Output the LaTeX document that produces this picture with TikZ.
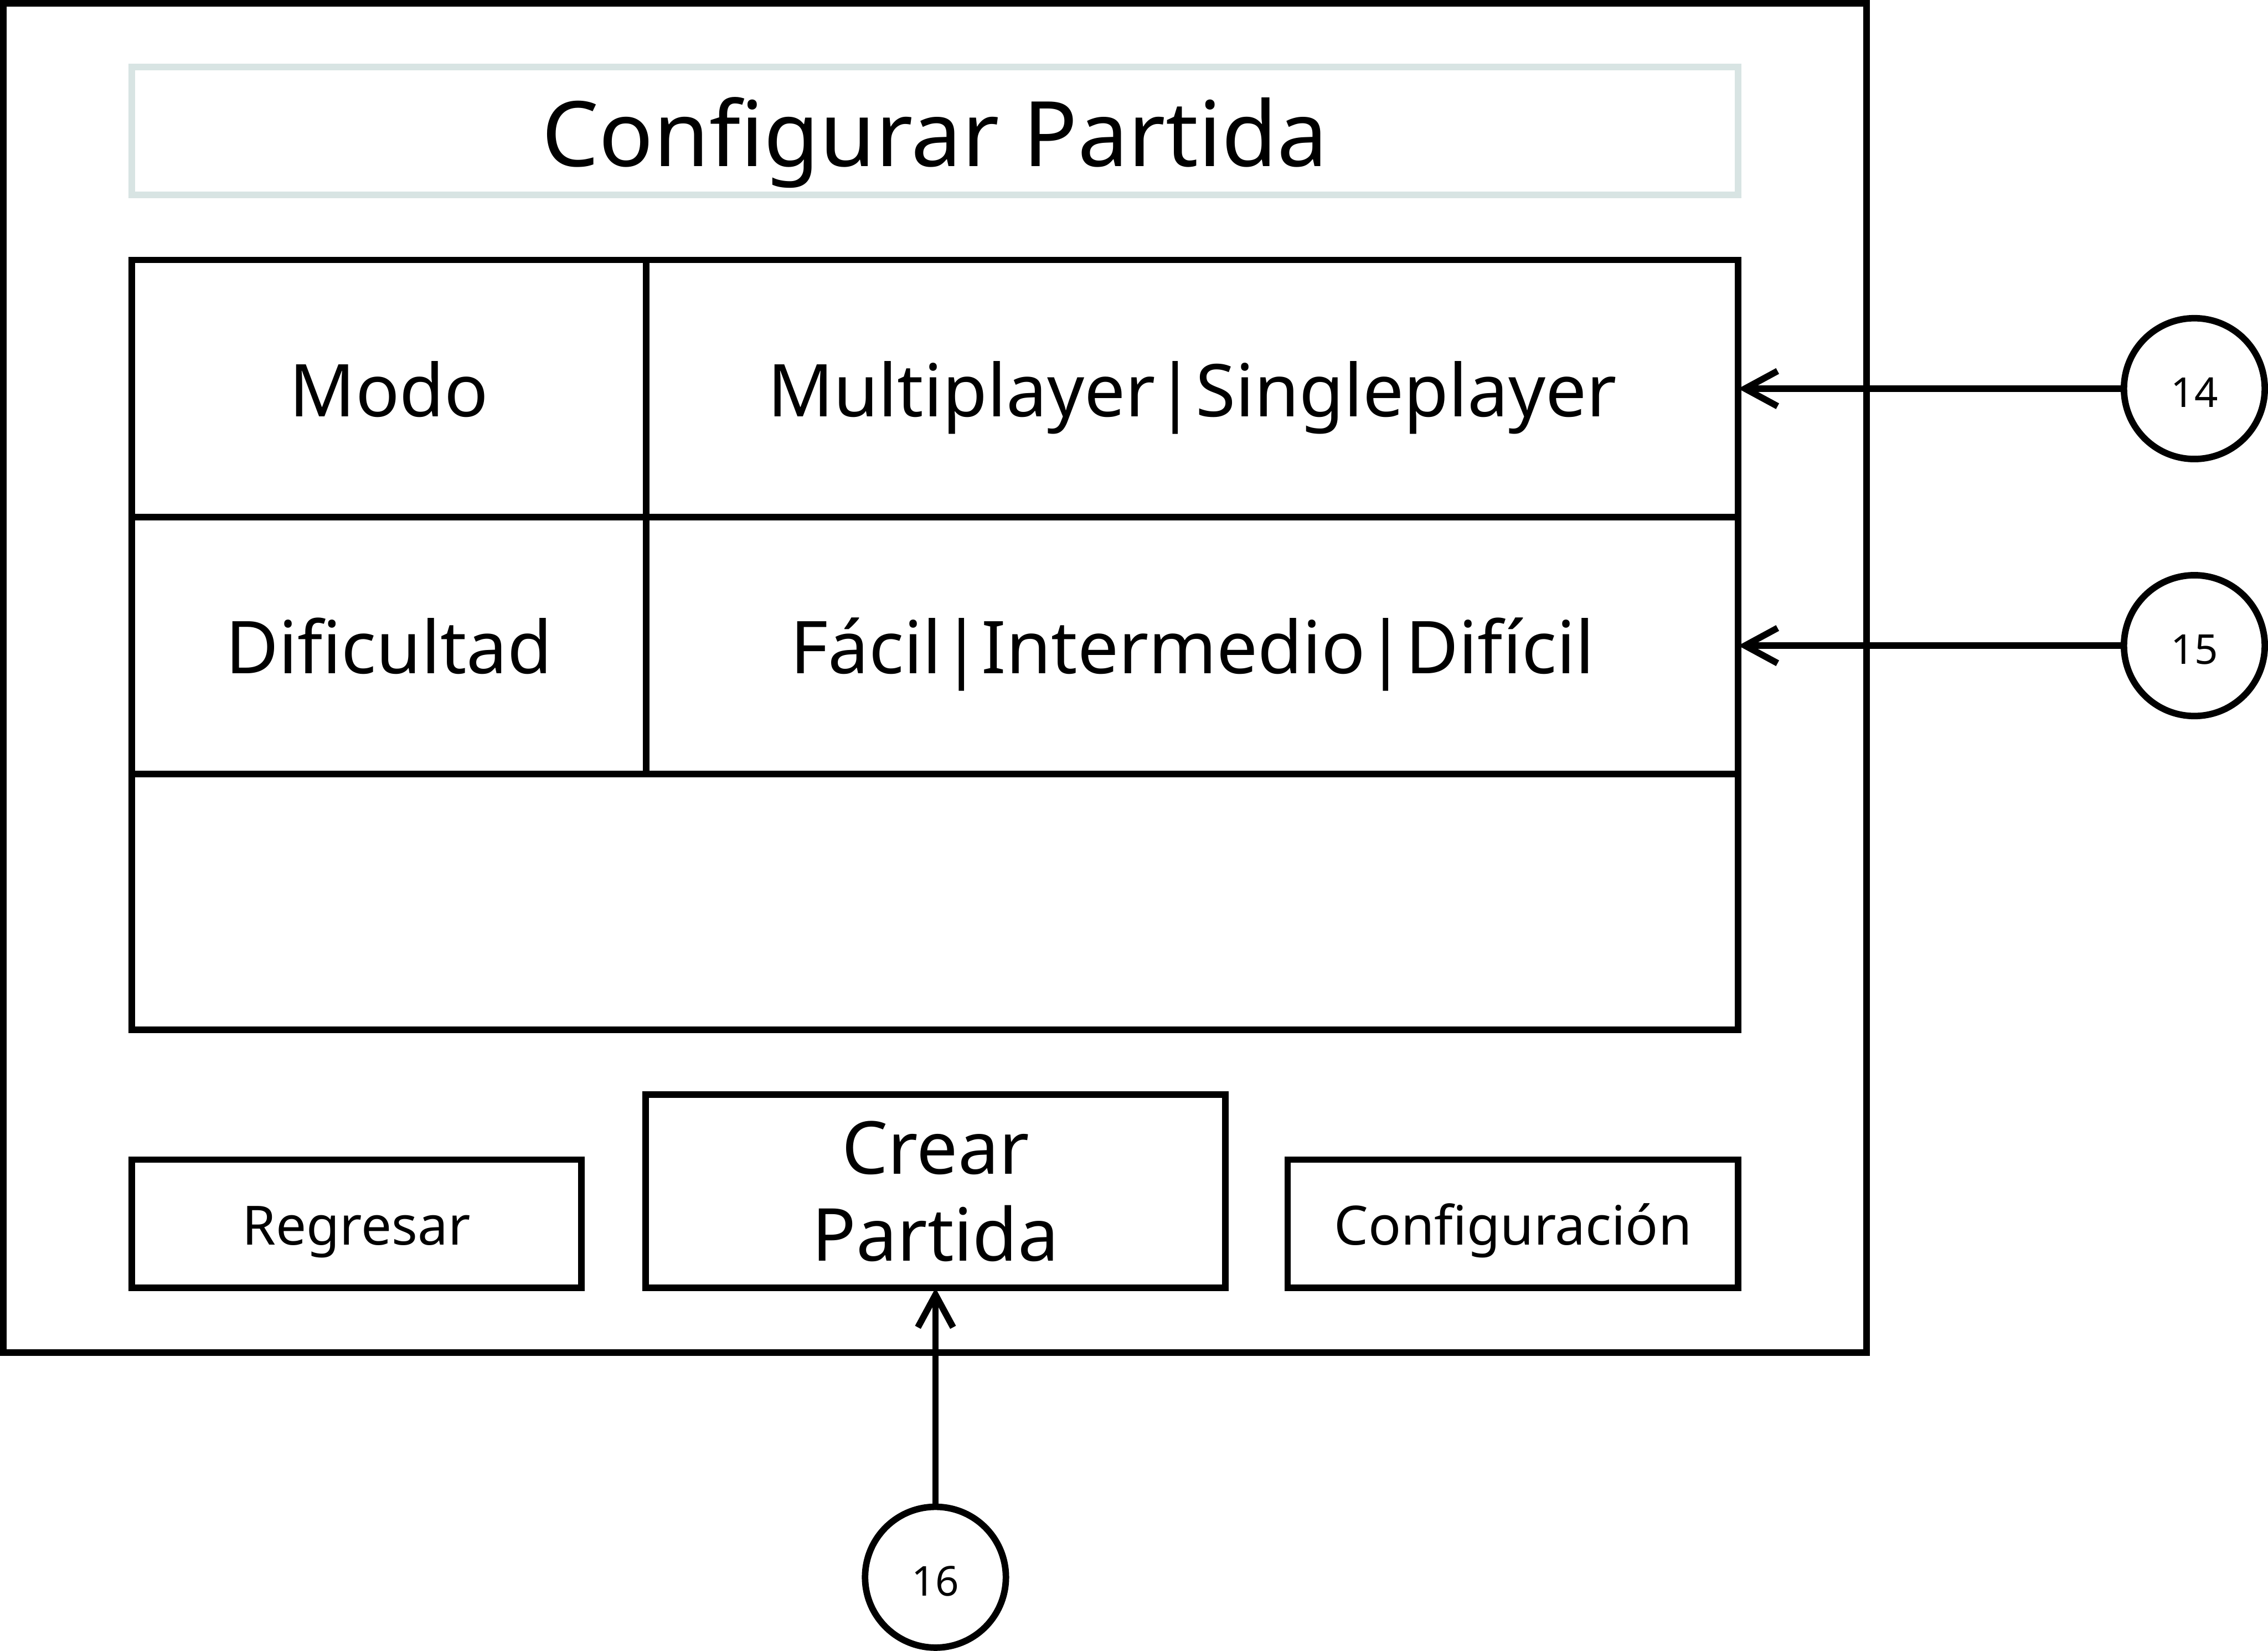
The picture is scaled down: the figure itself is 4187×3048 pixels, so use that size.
\documentclass[tikz,border=0pt]{standalone}
\usepackage{fontspec}
\setmainfont{Noto Sans}
\usetikzlibrary{arrows.meta}
\definecolor{titleline}{RGB}{216,228,227}
\tikzset{
  box/.style={draw=black, line width=1.2pt, inner sep=0pt, outer sep=0pt, rectangle},
  numcirc/.style={draw=black, line width=1.2pt, circle, minimum size=26pt, inner sep=0pt, outer sep=0pt, text height=6.9pt, text depth=0pt, font=\fontsize{7.6}{9}\selectfont},
  celltext/.style={text height=10.3pt, text depth=0pt, font=\fontsize{13.45}{16}\selectfont},
  btntext/.style={text height=7.8pt, text depth=0pt, font=\fontsize{10}{12}\selectfont},
  titletext/.style={text height=13.1pt, text depth=0pt, font=\fontsize{16.7}{20}\selectfont},
  arr/.style={line width=1.2pt, -{Straight Barb[length=6pt,width=6.5pt]}},
}
\begin{document}
\begin{tikzpicture}[x=0.1pt,y=-0.1pt]
\useasboundingbox (0,0) rectangle (4187,3048);
% outer frame
\node[box, minimum width=344pt, minimum height=249.1pt] (frame) at (1726,1251.5) {};
% title
\node[box, draw=titleline, titletext, minimum width=296.6pt, minimum height=23.6pt] (title) at (1726,242) {Configurar Partida};
% table cells
\node[box, celltext, minimum width=95pt, minimum height=47.5pt] (modoL) at (718,717.5) {Modo};
\node[box, celltext, minimum width=201.6pt, minimum height=47.5pt] (modoV) at (2201,717.5) {Multiplayer|Singleplayer};
\node[box, celltext, minimum width=95pt, minimum height=47.4pt] (difL) at (718,1192) {Dificultad};
\node[box, celltext, minimum width=201.6pt, minimum height=47.4pt] (difV) at (2201,1192) {Fácil|Intermedio|Difícil};
\node[box, minimum width=296.6pt, minimum height=47.2pt] (empty) at (1726,1665) {};
% buttons
\node[box, btntext, minimum width=83pt, minimum height=23.7pt] (regresar) at (658,2259.5) {Regresar};
\node[box, align=center, font=\fontsize{13.5}{16}\selectfont, minimum width=107pt, minimum height=35.7pt] (crear) at (1727,2199.5) {Crear\\Partida};
\node[box, btntext, minimum width=83.2pt, minimum height=23.7pt] (config) at (2793,2259.5) {Configuración};
% circles
\node[numcirc] (c14) at (4051,717.5) {14};
\node[numcirc] (c15) at (4051,1192) {15};
\node[numcirc] (c16) at (1727,2912) {16};
% connectors
\draw[arr] (c14) -- (modoV.east);
\draw[arr] (c15) -- (difV.east);
\draw[arr] (c16) -- (crear.south);
\end{tikzpicture}
\end{document}
